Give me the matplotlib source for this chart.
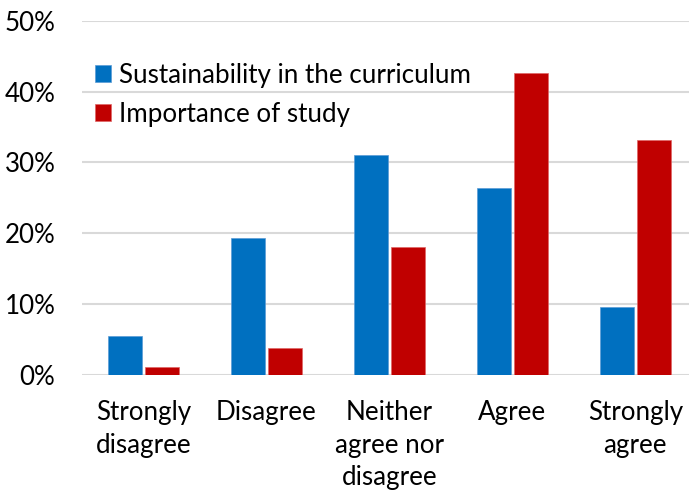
import matplotlib
matplotlib.use("Agg")
import matplotlib.pyplot as plt
import numpy as np
from matplotlib.ticker import FuncFormatter

categories = ["Strongly\ndisagree", "Disagree", "Neither\nagree nor\ndisagree", "Agree", "Strongly\nagree"]
series_names = ["Sustainability in the curriculum", "Importance of study"]
sustainability = [5.5, 19.3, 31.0, 26.4, 9.6]
importance = [1.1, 3.8, 18.0, 42.6, 33.1]
yticks = [0, 10, 20, 30, 40, 50]

plt.rcParams['font.family'] = ['Lato', 'DejaVu Sans']

W, H = 689, 490
fig = plt.figure(figsize=(W/100, H/100), dpi=100)
left = 81.8 / W
bottom = (H - 375) / H
width = 615 / W
height = (375 - 20.7) / H
ax = fig.add_axes([left, bottom, width, height])

x = np.arange(len(categories))
bw = 0.276
off = 0.15
ax.bar(x - off, sustainability, bw, color='#0070C0', edgecolor='#5B9BD5', linewidth=0.5, label=series_names[0], zorder=3)
ax.bar(x + off, importance, bw, color='#C00000', edgecolor='#E06666', linewidth=0.5, label=series_names[1], zorder=3)

fs = 18.7
ax.set_xlim(-0.5, len(categories) - 0.5)
ax.set_ylim(0, 50)
ax.set_yticks(yticks)
ax.yaxis.set_major_formatter(FuncFormatter(lambda v, p: f"{int(v)}%"))
ax.grid(axis='y', color='#D9D9D9', linewidth=1.5, zorder=0)
for s in ax.spines.values():
    s.set_visible(False)
ax.tick_params(axis='both', length=0, labelsize=fs, colors='#000000')
ax.tick_params(axis='y', pad=19)
ax.tick_params(axis='x', pad=18)
ax.set_xticks(x)
ax.set_xticklabels(categories, linespacing=1.38)

leg = ax.legend(loc='upper left', bbox_to_anchor=(0.021, 0.882), frameon=False,
                fontsize=fs, handlelength=0.62, handleheight=0.62,
                handletextpad=0.3, labelspacing=0.55, borderaxespad=0.0, borderpad=0.0)

fig.savefig("out.png", dpi=100)
